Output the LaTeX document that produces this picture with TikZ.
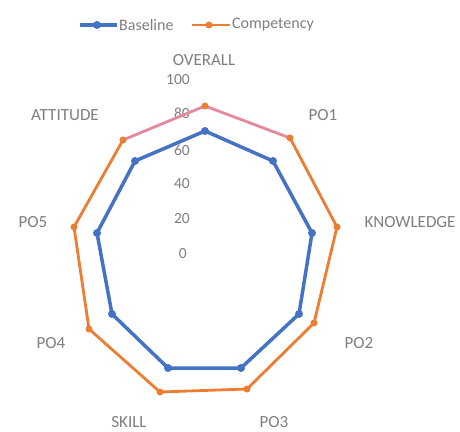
\documentclass[tikz,border=0pt]{standalone}
\usepackage{fontspec}
\setmainfont{Carlito}
\definecolor{serB}{HTML}{4472C4}
\definecolor{serO}{HTML}{ED7D31}
\definecolor{serP}{HTML}{E48A9E}
\definecolor{txt}{HTML}{7F7F7F}
\begin{document}
\begin{tikzpicture}[x=1pt,y=1pt,
  axlab/.style={text=txt,font=\fontsize{17}{17}\selectfont,inner sep=0pt},
  ticklab/.style={text=txt,font=\fontsize{15.5}{15.5}\selectfont,inner sep=0pt,anchor=east},
  leglab/.style={text=txt,font=\fontsize{16}{16}\selectfont,inner sep=0pt,anchor=west},
  bmark/.style={circle,fill=serB,inner sep=0pt,minimum size=8pt},
  omark/.style={circle,fill=serO,inner sep=0pt,minimum size=7pt},
  bline/.style={serB,line width=3.5pt,line join=round},
  oline/.style={serO,line width=2.8pt,line join=round},
  pline/.style={serP,line width=2.8pt,line join=round}]
\useasboundingbox[fill=white] (0,0) rectangle (460,431);
% tick labels
\node[ticklab] (t100) at (190,351) {100};
\node[ticklab] (t80) at (190,318) {80};
\node[ticklab] (t60) at (190,281) {60};
\node[ticklab] (t40) at (190,247) {40};
\node[ticklab] (t20) at (190,212) {20};
\node[ticklab] (t0) at (187,177) {0};
% axis labels
\node[axlab] (lOV) at (204,371) {OVERALL};
\node[axlab] (lP1) at (323,316) {PO1};
\node[axlab] (lKN) at (410,209) {KNOWLEDGE};
\node[axlab] (lP2) at (359,88) {PO2};
\node[axlab,anchor=base] (lP3) at (274,4) {PO3};
\node[axlab,anchor=base] (lSK) at (129,4) {SKILL};
\node[axlab] (lP4) at (51,88) {PO4};
\node[axlab] (lP5) at (33,209) {PO5};
\node[axlab] (lAT) at (65,316) {ATTITUDE};
% competency series
\coordinate (o1) at (205,325);
\coordinate (o2) at (290,293);
\coordinate (o3) at (337,204);
\coordinate (o4) at (314,108);
\coordinate (o5) at (247,42);
\coordinate (o6) at (160,39);
\coordinate (o7) at (89,102);
\coordinate (o8) at (74,204);
\coordinate (o9) at (123,291);
\draw[oline] (o2) -- (o3) -- (o4) -- (o5) -- (o6) -- (o7) -- (o8) -- (o9);
\draw[pline] (o9) -- (o1) -- (o2);
\foreach \i in {1,...,9} \node[omark] (om\i) at (o\i) {};
% baseline series
\coordinate (b1) at (205,300);
\coordinate (b2) at (273,270);
\coordinate (b3) at (312,198);
\coordinate (b4) at (299,117);
\coordinate (b5) at (241,63);
\coordinate (b6) at (168,63);
\coordinate (b7) at (112,117);
\coordinate (b8) at (97,198);
\coordinate (b9) at (135,270);
\draw[bline] (b1) -- (b2) -- (b3) -- (b4) -- (b5) -- (b6) -- (b7) -- (b8) -- (b9) -- cycle;
\foreach \i in {1,...,9} \node[bmark] (bm\i) at (b\i) {};
% legend
\coordinate (lbA) at (80,406);
\coordinate (lbB) at (117,406);
\draw[bline] (lbA) -- (lbB);
\node[bmark] (lbm) at (97,406) {};
\node[leglab] (lbt) at (119,406) {Baseline};
\coordinate (loA) at (192,406);
\coordinate (loB) at (230,406);
\draw[oline] (loA) -- (loB);
\node[omark] (lom) at (209,406) {};
\node[leglab] (lot) at (232,406) {Competency};
\end{tikzpicture}
\end{document}
